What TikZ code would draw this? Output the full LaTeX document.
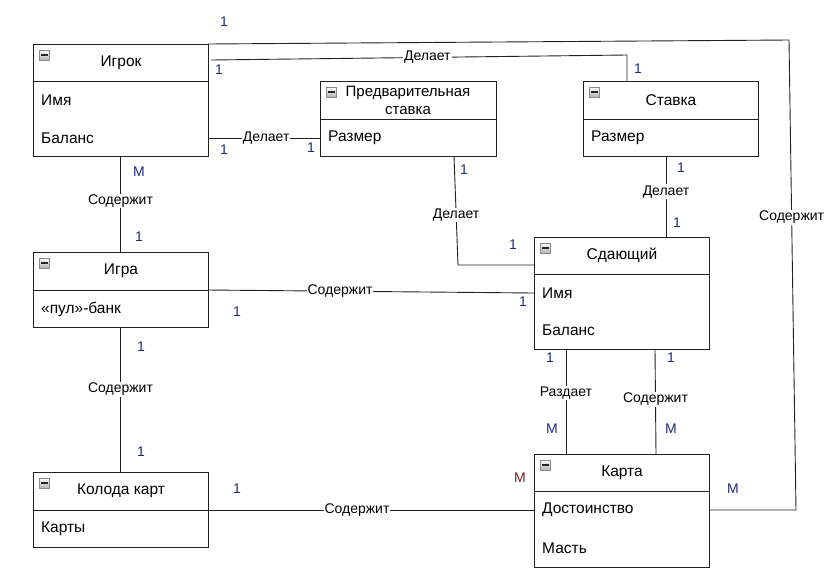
\documentclass[tikz,border=0pt]{standalone}
\usepackage{fontspec}
\setmainfont{Liberation Sans}
\usetikzlibrary{calc}
\definecolor{cardblue}{HTML}{1E2A78}
\definecolor{cardred}{HTML}{7A1E1E}
\definecolor{edgegray}{HTML}{222222}
\tikzset{
  ent/.style={draw=edgegray, line width=0.9pt, fill=white, anchor=north west,
    minimum width=175pt, inner sep=0pt, outer sep=0pt},
  divline/.style={draw=edgegray, line width=0.9pt},
  ttl/.style={font=\fontsize{15.5}{18}\selectfont, inner sep=0pt, align=center},
  attr/.style={anchor=west, font=\fontsize{15.5}{18}\selectfont, inner sep=0pt},
  rel/.style={draw=edgegray, line width=0.9pt},
  rlab/.style={fill=white, inner sep=1pt, font=\fontsize{14}{16}\selectfont},
  card/.style={text=cardblue, font=\fontsize{14}{16}\selectfont, inner sep=0pt},
  cardr/.style={card, text=cardred},
  minusicon/.pic={
    \fill[top color=white, bottom color=black!30, draw=black!45, line width=0.6pt]
      (0,0) rectangle (10,10);
    \fill[black!85] (1.5,4.2) rectangle (8.5,5.8);
  }
}
% entity box: name, x, y, width, height, divider offset
\newcommand{\entbox}[6]{%
  \node[ent, minimum width=#4pt, minimum height=#5pt] (#1) at (#2,#3) {};
  \draw[divline] ($(#1.north west)+(0,-#6pt)$) -- ($(#1.north east)+(0,-#6pt)$);
  \pic at ($(#1.north west)+(6pt,-6pt)$) {minusicon};
}
\begin{document}
\begin{tikzpicture}[x=1pt,y=-1pt]
\useasboundingbox (0,0) rectangle (836,582);

% ---------- entities ----------
\entbox{igrok}{33}{44}{175}{112}{37}
\node[ttl] (igrok-t) at (121,63) {Игрок};
\node[attr] (igrok-a1) at (41,100) {Имя};
\node[attr] (igrok-a2) at (41,138) {Баланс};

\entbox{predv}{320}{81}{176}{75}{38}
\node[ttl, font=\fontsize{15}{18}\selectfont] (predv-t) at (408,100) {Предварительная\\ставка};
\node[attr] (predv-a1) at (328,138) {Размер};

\entbox{stavka}{583}{81}{175}{75}{38}
\node[ttl] (stavka-t) at (671,100) {Ставка};
\node[attr] (stavka-a1) at (591,138) {Размер};

\entbox{sd}{534}{237}{175}{112}{37}
\node[ttl] (sd-t) at (622,255) {Сдающий};
\node[attr] (sd-a1) at (542,293) {Имя};
\node[attr] (sd-a2) at (542,330) {Баланс};

\entbox{igra}{33}{252}{175}{75}{38}
\node[ttl] (igra-t) at (121,271) {Игра};
\node[attr] (igra-a1) at (41,309) {«пул»-банк};

\entbox{koloda}{33}{472}{175}{75}{38}
\node[ttl] (koloda-t) at (121,491) {Колода карт};
\node[attr] (koloda-a1) at (41,529) {Карты};

\entbox{karta}{534}{454}{175}{113}{37}
\node[ttl] (karta-t) at (622,473) {Карта};
\node[attr] (karta-a1) at (542,510) {Достоинство};
\node[attr] (karta-a2) at (542,548) {Масть};

% ---------- bend points ----------
\coordinate (b1a) at (789,40);
\coordinate (b1b) at (796,510);
\coordinate (b2s) at (211,60);
\coordinate (b2a) at (627,55);
\coordinate (b8a) at (458,265);

% ---------- relationships ----------
\draw[rel] (igrok.north east) -- (b1a)
  -- node[rlab, pos=0.377] {Содержит} (b1b) -- (karta.east |- karta-a1);
\draw[rel] (b2s) -- node[rlab, pos=0.52] {Делает} (b2a) -- (b2a |- stavka.north);
\draw[rel] (igrok.east |- igrok-a2) -- node[rlab, pos=0.52] {Делает} (predv.west |- predv-a1);
\draw[rel] (igrok.south) -- node[rlab, pos=0.47] {Содержит} (igra.north);
\draw[rel] ([yshift=-38pt]igra.north east) -- node[rlab, pos=0.405] {Содержит} ([yshift=-56pt]sd.north west);
\draw[rel] (igra.south) -- node[rlab, pos=0.43] {Содержит} (koloda.north);
\draw[rel] ([yshift=-38pt]koloda.north east) -- node[rlab, pos=0.457] {Содержит} (karta.west |- karta-a1);
\draw[rel] ([xshift=-42pt]predv.south east) -- node[rlab, pos=0.54] {Делает} (b8a)
  -- (b8a -| sd.west);
\draw[rel] ([xshift=83pt]stavka.south west) -- node[rlab, pos=0.44] {Делает}
  ([xshift=83pt]stavka.south west |- sd.north);
\draw[rel] ([xshift=32pt]sd.south west) -- node[rlab, pos=0.42] {Раздает}
  ([xshift=32pt]sd.south west |- karta.north);
\draw[rel] ([xshift=121pt]sd.south west) -- node[rlab, pos=0.48] {Содержит}
  ([xshift=122pt]karta.north west);

% ---------- multiplicities ----------
\node[card] (m1) at (224,22) {1};
\node[card] (m2) at (733,489) {M};
\node[card] (m3) at (219,70) {1};
\node[card] (m4) at (638,69) {1};
\node[card] (m5) at (224,150) {1};
\node[card] (m6) at (311,148) {1};
\node[card] (m7) at (139,172) {M};
\node[card] (m8) at (139,237) {1};
\node[card] (m9) at (237,312) {1};
\node[card] (m10) at (523,302) {1};
\node[card] (m11) at (141,347) {1};
\node[card] (m12) at (141,452) {1};
\node[card] (m13) at (237,489) {1};
\node[cardr] (m14) at (520,478) {M};
\node[card] (m15) at (464,170) {1};
\node[card] (m16) at (513,245) {1};
\node[card] (m17) at (681,168) {1};
\node[card] (m18) at (677,223) {1};
\node[card] (m19) at (550,358) {1};
\node[card] (m20) at (552,429) {M};
\node[card] (m21) at (671,358) {1};
\node[card] (m22) at (671,429) {M};
\end{tikzpicture}
\end{document}
